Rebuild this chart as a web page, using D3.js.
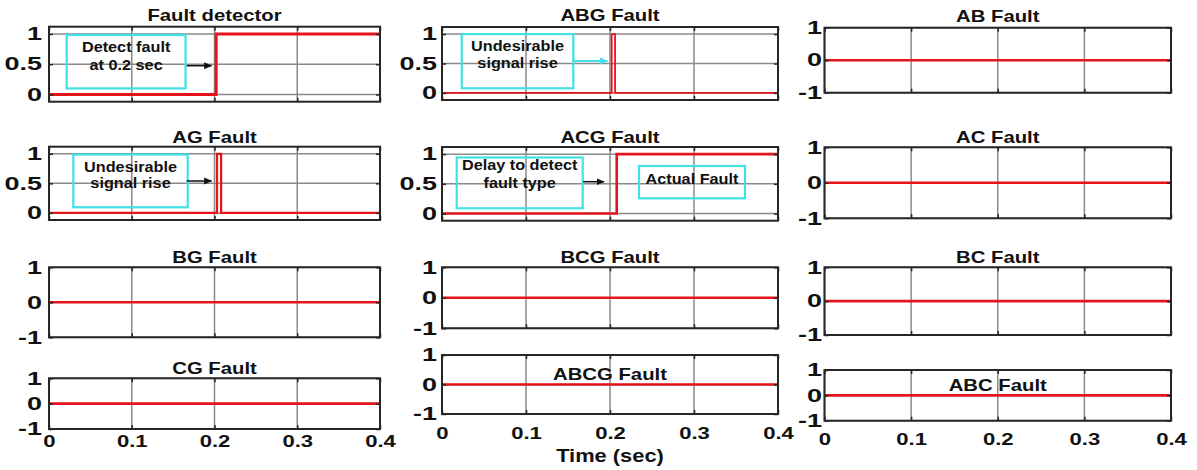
<!DOCTYPE html>
<html>
<head>
<meta charset="utf-8">
<script src="https://cdn.jsdelivr.net/npm/d3@7"></script>
<style>
  body { margin: 0; background: #fff; }
  svg { display: block; }
  text { font-family: "Liberation Sans", Arial, Helvetica, sans-serif; font-weight: bold; fill: #111; }
</style>
</head>
<body>
<svg id="chart" width="1197" height="470"></svg>
<script>
// ---- Data -----------------------------------------------------------------
const timeTicks = [0, 0.1, 0.2, 0.3, 0.4];
const timeTickLabels = ["0", "0.1", "0.2", "0.3", "0.4"];
const binaryTicks = [0, 0.5, 1];
const binaryTickLabels = ["0", "0.5", "1"];
const signedTicks = [-1, 0, 1];
const signedTickLabels = ["-1", "0", "1"];

const panelTitles = [
  "Fault detector", "ABG Fault", "AB Fault",
  "AG Fault", "ACG Fault", "AC Fault",
  "BG Fault", "BCG Fault", "BC Fault",
  "CG Fault", "ABCG Fault", "ABC Fault"
];

// Step signals: breakpoint times (sec) and output levels
const detectorTime  = [0, 0.202, 0.202, 0.4];
const detectorLevel = [0, 0, 1, 1];
const abgTime  = [0, 0.202, 0.202, 0.206, 0.206, 0.4];
const abgLevel = [0, 0, 1, 1, 0, 0];
const agTime   = [0, 0.203, 0.203, 0.208, 0.208, 0.4];
const agLevel  = [0, 0, 1, 1, 0, 0];
const acgTime  = [0, 0.208, 0.208, 0.4];
const acgLevel = [0, 0, 1, 1];
const idleTime  = [0, 0.4];
const idleLevel = [0, 0];

const panelSignals = [
  [detectorTime, detectorLevel], [abgTime, abgLevel], [idleTime, idleLevel],
  [agTime, agLevel], [acgTime, acgLevel], [idleTime, idleLevel],
  [idleTime, idleLevel], [idleTime, idleLevel], [idleTime, idleLevel],
  [idleTime, idleLevel], [idleTime, idleLevel], [idleTime, idleLevel]
];
const binaryPanels = ["Fault detector", "ABG Fault", "AG Fault", "ACG Fault"];

// Callout texts
const detectorNote = ["Detect fault", "at 0.2 sec"];
const abgNote = ["Undesirable", "signal rise"];
const agNote = ["Undesirable", "signal rise"];
const acgDelayNote = ["Delay to detect", "fault type"];
const acgActualNote = ["Actual Fault"];
const xAxisLabel = "Time (sec)";

// ---- Layout ---------------------------------------------------------------
const colX = [[49, 380], [442, 778], [824.5, 1171]];
const panelY = [
  [[26.7, 101.7], [27, 100], [27.7, 92.7]],
  [[146.7, 220], [147, 220.7], [147.3, 218.3]],
  [[267.3, 337.3], [267.3, 328.3], [267.3, 335]],
  [[378.3, 429], [355, 414], [370, 420.7]]
];
const titleBaseline = [
  [21, 21, 21.5],
  [142.5, 142.5, 142.5],
  [262.5, 262.5, 262.5],
  [373.5, 380, 390.5]
];
const xLabelPad = [6, 12.7, 12.3];
const yLabelGap = [7, 5, 2.5];
const lineWidth = {"Fault detector": 3, "ABG Fault": 1.8, "AG Fault": 2.2, "ACG Fault": 2.6};

const RED = "#e5141b";
const CYAN = "#3fe1e6";
const GRID = "#8a8a8a";
const FRAME = "#262626";

const svg = d3.select("#chart");

const defs = svg.append("defs");
[["arrowBlack", "#111"], ["arrowCyan", CYAN]].forEach(([id, c]) => {
  defs.append("marker").attr("id", id)
    .attr("viewBox", "0 0 8 8").attr("refX", 7.5).attr("refY", 4)
    .attr("markerWidth", 8).attr("markerHeight", 8)
    .attr("markerUnits", "userSpaceOnUse").attr("orient", "auto")
    .append("path").attr("d", "M0,0.5 L8,4 L0,7.5 Z").attr("fill", c);
});

function stretchedText(parent, x, y, str, size, sx, anchor) {
  return parent.append("text")
    .attr("transform", `translate(${x},${y}) scale(${sx},1)`)
    .attr("text-anchor", anchor || "middle")
    .style("font-size", size + "px")
    .text(str);
}

const scalesByTitle = {};

panelTitles.forEach((title, i) => {
  const row = Math.floor(i / 3), col = i % 3;
  const [x0, x1] = colX[col];
  const [y0, y1] = panelY[row][col];
  const binary = binaryPanels.includes(title);
  const x = d3.scaleLinear().domain([0, 0.4]).range([x0, x1]);
  const y = d3.scaleLinear().domain(binary ? [-0.12, 1.12] : [-1, 1]).range([y1, y0]);
  scalesByTitle[title] = {x, y};
  const yTicks = binary ? binaryTicks : signedTicks;
  const yLabels = binary ? binaryTickLabels : signedTickLabels;
  const g = svg.append("g");

  // grid
  g.append("g").selectAll("line").data(timeTicks).join("line")
    .attr("x1", d => x(d)).attr("x2", d => x(d))
    .attr("y1", y0).attr("y2", y1)
    .attr("stroke", GRID).attr("stroke-width", 1.5);
  g.append("g").selectAll("line").data(yTicks).join("line")
    .attr("x1", x0).attr("x2", x1)
    .attr("y1", d => y(d)).attr("y2", d => y(d))
    .attr("stroke", GRID).attr("stroke-width", 1.5);

  // signal
  const [tArr, vArr] = panelSignals[i];
  const pts = tArr.map((t, k) => [t, vArr[k]]);
  g.append("path")
    .attr("d", d3.line().x(d => x(d[0])).y(d => y(d[1]))(pts))
    .attr("fill", "none").attr("stroke", RED)
    .attr("stroke-width", lineWidth[title] || 2.6)
    .attr("stroke-linejoin", "miter");

  // axes (inward ticks on all four sides)
  const bottomRow = row === 3;
  const styleTicks = a => {
    a.select(".domain").remove();
    a.selectAll("line").attr("stroke", FRAME).attr("stroke-width", 1.5);
  };
  g.append("g").attr("transform", `translate(0,${y1})`)
    .call(d3.axisBottom(x).tickValues(timeTicks).tickSizeInner(-4).tickSizeOuter(0)
      .tickPadding(xLabelPad[col])
      .tickFormat((d, k) => bottomRow ? timeTickLabels[k] : ""))
    .call(styleTicks)
    .call(a => a.selectAll("text")
      .style("font-size", "17px").style("font-family", null).attr("fill", "#111")
      .attr("transform", "scale(1.3,1)"));
  g.append("g").attr("transform", `translate(0,${y0})`)
    .call(d3.axisTop(x).tickValues(timeTicks).tickSizeInner(-4).tickSizeOuter(0).tickFormat(""))
    .call(styleTicks);
  const sxY = 1.5;
  g.append("g").attr("transform", `translate(${x0},0)`)
    .call(d3.axisLeft(y).tickValues(yTicks).tickSizeInner(-4).tickSizeOuter(0)
      .tickPadding(yLabelGap[col] / sxY)
      .tickFormat((d, k) => yLabels[k]))
    .call(styleTicks)
    .call(a => a.selectAll("text")
      .style("font-size", "18px").attr("fill", "#111")
      .attr("transform", `scale(${sxY},1)`));
  g.append("g").attr("transform", `translate(${x1},0)`)
    .call(d3.axisRight(y).tickValues(yTicks).tickSizeInner(-4).tickSizeOuter(0).tickFormat(""))
    .call(styleTicks);

  // frame
  g.append("rect")
    .attr("x", x0).attr("y", y0).attr("width", x1 - x0).attr("height", y1 - y0)
    .attr("fill", "none").attr("stroke", FRAME).attr("stroke-width", 2);

  // title
  stretchedText(g, (x0 + x1) / 2, titleBaseline[row][col], title, 16, 1.27);
});

// x-axis label under the middle column
stretchedText(svg, (colX[1][0] + colX[1][1]) / 2, 462, xAxisLabel, 17.5, 1.25);

// ---- Callouts -------------------------------------------------------------
function callout(title, box, lines, lineVals, arrow, arrowColor) {
  const {x, y} = scalesByTitle[title];
  const g = svg.append("g");
  g.append("rect")
    .attr("x", x(box[0])).attr("y", y(box[3]))
    .attr("width", x(box[1]) - x(box[0])).attr("height", y(box[2]) - y(box[3]))
    .attr("fill", "none").attr("stroke", CYAN).attr("stroke-width", 2.2);
  const cx = (x(box[0]) + x(box[1])) / 2;
  lines.forEach((s, k) => {
    stretchedText(g, cx, y(lineVals[k]), s, 14, 1.16).attr("dy", "0.36em");
  });
  if (arrow) {
    g.append("line")
      .attr("x1", x(arrow[0])).attr("x2", x(arrow[1]))
      .attr("y1", y(arrow[2])).attr("y2", y(arrow[2]))
      .attr("stroke", arrowColor === "cyan" ? CYAN : "#111")
      .attr("stroke-width", arrowColor === "cyan" ? 2 : 1.5)
      .attr("marker-end", arrowColor === "cyan" ? "url(#arrowCyan)" : "url(#arrowBlack)");
  }
}

// box: [t0, t1, v0, v1]; arrow: [t0, t1, v]
callout("Fault detector", [0.0214, 0.165, 0.10, 0.983], detectorNote, [0.789, 0.487], [0.1664, 0.1966, 0.475], "black");
callout("ABG Fault", [0.0235, 0.1563, 0.079, 1.0], abgNote, [0.802, 0.503], [0.156, 0.197, 0.542], "cyan");
callout("AG Fault", [0.0294, 0.1676, 0.095, 0.988], agNote, [0.782, 0.501], [0.1664, 0.1966, 0.54], "black");
callout("ACG Fault", [0.0175, 0.1675, 0.089, 0.944], acgDelayNote, [0.817, 0.519], [0.168, 0.193, 0.536], "black");
callout("ACG Fault", [0.2345, 0.3607, 0.257, 0.80], acgActualNote, [0.577], null);
</script>
</body>
</html>
